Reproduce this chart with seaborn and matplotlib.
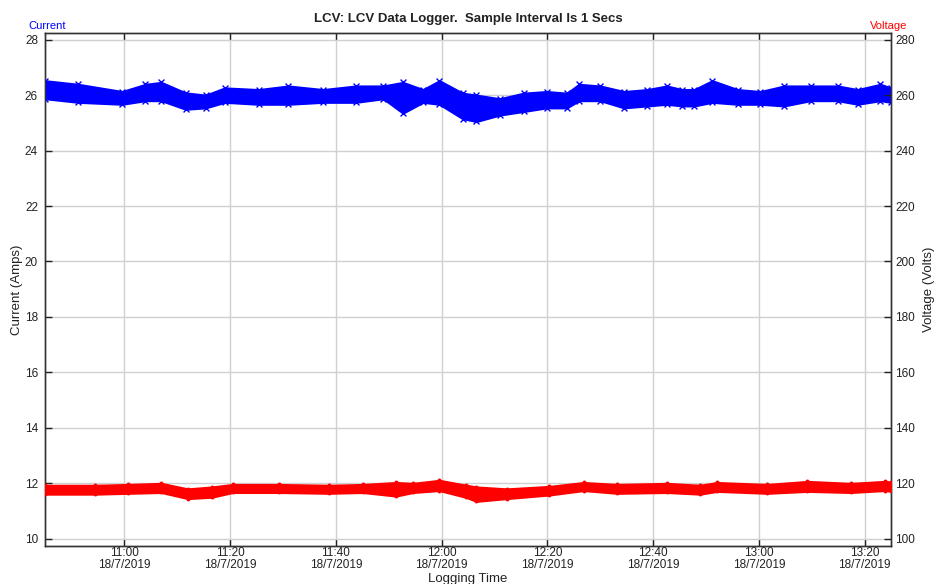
import matplotlib
matplotlib.use("Agg")
import matplotlib.pyplot as plt
from matplotlib.ticker import MultipleLocator
import seaborn as sns
import pandas as pd

# ---- data (minutes after 10:45 on 18/7/2019) ----
cur_t = [0, 6.3, 14.6, 19, 22, 26.6, 30.4, 34, 40.4, 46, 52.6, 58.8, 64, 67.7, 71.5,
         74.6, 79, 81.6, 86, 90.5, 94.9, 98.7, 101, 105, 109.5, 113.9, 117.6, 120.5,
         122.8, 126.2, 131, 135.3, 139.8, 144.8, 149.9, 153.7, 158, 160]
cur_hi = [26.52, 26.39, 26.13, 26.39, 26.46, 26.08, 26.00, 26.26, 26.20, 26.33, 26.20,
          26.33, 26.33, 26.46, 26.20, 26.52, 26.07, 26.00, 25.87, 26.07, 26.13, 26.07,
          26.39, 26.33, 26.13, 26.20, 26.33, 26.20, 26.20, 26.52, 26.20, 26.13, 26.33,
          26.33, 26.33, 26.20, 26.39, 26.26]
cur_lo = [25.87, 25.74, 25.67, 25.80, 25.80, 25.49, 25.54, 25.74, 25.67, 25.67, 25.74,
          25.74, 25.87, 25.35, 25.74, 25.67, 25.15, 25.05, 25.28, 25.41, 25.54, 25.54,
          25.80, 25.80, 25.54, 25.61, 25.67, 25.61, 25.61, 25.74, 25.67, 25.67, 25.61,
          25.80, 25.80, 25.67, 25.80, 25.74]

volt_t = [0, 9.5, 15.7, 22, 27, 31.6, 35.5, 44.2, 53.7, 60.1, 66.4, 69.6, 74.6, 79.7,
          81.6, 87.3, 95.4, 101.9, 108.2, 117.6, 123.9, 127.1, 136.6, 144.2, 152.4,
          158.8, 160]
volt_hi = [119.3, 119.3, 119.6, 120.0, 118.0, 118.7, 119.6, 119.6, 119.3, 119.6, 120.3,
           120.0, 121.1, 119.3, 118.7, 118.0, 118.9, 120.3, 119.6, 120.0, 119.3, 120.3,
           119.6, 120.7, 120.0, 120.7, 120.5]
volt_lo = [116.1, 116.1, 116.4, 116.7, 114.5, 115.0, 116.7, 116.7, 116.4, 116.7, 115.4,
           116.7, 117.4, 114.9, 113.5, 114.5, 115.8, 117.4, 116.4, 116.7, 116.1, 117.1,
           116.4, 117.1, 116.7, 117.4, 117.2]

x_ticks = ["11:00", "11:20", "11:40", "12:00", "12:20", "12:40", "13:00", "13:20"]
date_label = "18/7/2019"
title = "LCV: LCV Data Logger.  Sample Interval Is 1 Secs"

start = pd.Timestamp("2019-07-18 10:45:00")
cur_dt = [start + pd.Timedelta(minutes=m) for m in cur_t]
volt_dt = [start + pd.Timedelta(minutes=m) for m in volt_t]

sns.set_theme(style="white")
plt.rcParams["font.family"] = ["Liberation Sans", "DejaVu Sans"]
plt.rcParams["text.color"] = "#222222"
plt.rcParams["axes.labelcolor"] = "#222222"
plt.rcParams["xtick.color"] = "#222222"
plt.rcParams["ytick.color"] = "#222222"

fig = plt.figure(figsize=(9.34, 5.84), dpi=100)
ax = fig.add_axes([45 / 934, 1 - 546 / 584, (891 - 45) / 934, (546 - 33) / 584])
ax2 = ax.twinx()

BLUE = "#0000ff"
RED = "#ff0000"

ax.fill_between(cur_dt, cur_lo, cur_hi, color=BLUE, linewidth=1.5, edgecolor=BLUE, zorder=3)
cdf = pd.DataFrame({"t": cur_dt + cur_dt, "v": cur_hi + cur_lo})
sns.scatterplot(data=cdf, x="t", y="v", ax=ax, marker="x", color=BLUE, s=18,
                linewidth=1.0, zorder=4, legend=False)

ax2.fill_between(volt_dt, volt_lo, volt_hi, color=RED, linewidth=1.5, edgecolor=RED, zorder=3)
vdf = pd.DataFrame({"t": volt_dt + volt_dt, "v": volt_hi + volt_lo})
sns.scatterplot(data=vdf, x="t", y="v", ax=ax2, marker="o", color=RED, s=8,
                linewidth=0, zorder=4, legend=False)

xmin = start
xmax = start + pd.Timedelta(minutes=160)
ax.set_xlim(xmin, xmax)
ax.set_ylim(9.74, 28.24)
ax2.set_ylim(97.4, 282.4)

tick_pos = [pd.Timestamp("2019-07-18 " + s) for s in x_ticks]
ax.set_xticks(tick_pos)
ax.set_xticklabels([s + "\n" + date_label for s in x_ticks], fontsize=8.5, linespacing=0.95)
ax.yaxis.set_major_locator(MultipleLocator(2))
ax2.yaxis.set_major_locator(MultipleLocator(20))
ax.tick_params(axis="y", labelsize=8.5, direction="in", length=5, width=1, pad=5, left=True)
ax2.tick_params(axis="y", labelsize=8.5, direction="in", length=5, width=1, pad=3, right=True)
ax.tick_params(axis="x", direction="in", length=5, width=1, pad=1, top=True, bottom=True)

ax.grid(True, color="#d0d0d0", linewidth=1)
ax.set_axisbelow(True)
for a in (ax, ax2):
    for sp in a.spines.values():
        sp.set_color("#333333")
        sp.set_linewidth(1)
ax2.set_xlabel("")
ax.set_xlabel("Logging Time", fontsize=9.5, labelpad=1.5)
ax.set_ylabel("Current (Amps)", fontsize=9.5, labelpad=1)
ax2.set_ylabel("Voltage (Volts)", fontsize=9.5, labelpad=6)
ax.set_title(title, fontsize=9.5, fontweight="bold", pad=8)

fig.text(28 / 934, 1 - 26 / 584, "Current", color=BLUE, fontsize=8, va="center", ha="left")
fig.text(907 / 934, 1 - 26 / 584, "Voltage", color=RED, fontsize=8, va="center", ha="right")

fig.savefig("out.png", dpi=100)
